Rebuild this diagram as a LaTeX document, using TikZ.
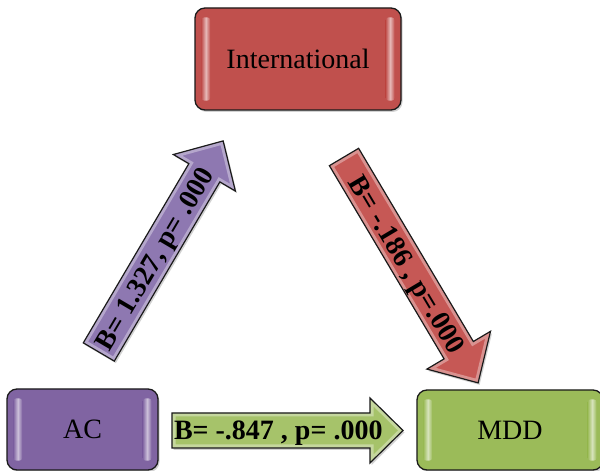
\documentclass[tikz,border=0pt]{standalone}
\usepackage{fontspec}
\setmainfont{Liberation Serif}
\usetikzlibrary{calc,shadows}
\definecolor{redc}{HTML}{C0504D}
\definecolor{purc}{HTML}{8064A2}
\definecolor{grnc}{HTML}{9BBB59}
\definecolor{redarr}{HTML}{C65855}
\definecolor{purarr}{HTML}{8E78B1}
\definecolor{grnarr}{HTML}{A6C36A}
\definecolor{edgec}{HTML}{1A1A1A}
\tikzset{
  boxnode/.style={draw=edgec, line width=1.3pt, rounded corners=10pt, inner sep=0pt,
    font=\fontsize{28}{32}\selectfont,
    drop shadow={shadow xshift=1.5pt, shadow yshift=-2pt, opacity=.35}},
  arrtext/.style={font=\bfseries\fontsize{28}{32}\selectfont, inner sep=0pt,
    text height=19pt, text depth=0pt},
  arrbody/.style={fill=#1, drop shadow={shadow xshift=1.5pt, shadow yshift=-2pt, opacity=.35}},
  arredge/.style={draw=edgec, line width=1.2pt, line join=miter},
}
\newcommand{\boxshine}[2]{%
  \shade[left color=#2, right color=#2, middle color=white!60!#2, rounded corners=3pt]
    ($(#1.north west)+(7pt,-10pt)$) rectangle ($(#1.south west)+(16pt,10pt)$);
  \shade[left color=#2, right color=#2, middle color=white!60!#2, rounded corners=3pt]
    ($(#1.north east)+(-16pt,-10pt)$) rectangle ($(#1.south east)+(-7pt,10pt)$);
}
% #1 tail, #2 angle, #3 length, #4 shaft half, #5 head half, #6 head length, #7 colour, #8 tip name
\newcommand{\blockarr}[8]{%
  \begin{scope}[shift={(#1)}, rotate=#2]
    \def\arrpath{(0,-#4) -- ({#3-#6},-#4) -- ({#3-#6},-#5) -- (#3,0) -- ({#3-#6},#5) -- ({#3-#6},#4) -- (0,#4) -- cycle}
    \path[arrbody=#7] \arrpath;
    \begin{scope}
      \clip \arrpath;
      \draw[white, opacity=.35, line width=7pt] \arrpath;
    \end{scope}
    \draw[arredge] \arrpath;
    \coordinate (#8) at (#3,0);
  \end{scope}}
\begin{document}
\begin{tikzpicture}[x=1pt,y=1pt]
\useasboundingbox (0,0) rectangle (600,471);
\fill[white] (0,0) rectangle (600,471);

% boxes
\node[boxnode, fill=redc, minimum width=206pt, minimum height=102pt] (intl) at (298,412) {International};
\node[boxnode, fill=purc, minimum width=151pt, minimum height=81pt] (ac) at (82.5,41.5) {AC};
\node[boxnode, fill=grnc, minimum width=186pt, minimum height=80pt] (mdd) at (510,41) {MDD};
\boxshine{intl}{redc}
\boxshine{ac}{purc}
\boxshine{mdd}{grnc}

% arrows
\coordinate (ptail) at (98.8,119);
\coordinate (rtail) at (344,314);
\coordinate (gtail) at (172,40.5);
\blockarr{ptail}{59.5}{245}{18}{36}{37}{purarr}{ptip}
\blockarr{rtail}{-59.3}{262.7}{17}{37}{38}{redarr}{rtip}
\blockarr{gtail}{0}{231}{17.5}{32.5}{33}{grnarr}{gtip}

\node[arrtext, rotate=59.5] (ptext) at ($(ptail)!0.443!(ptip)$) {B= 1.327, p= .000};
\node[arrtext, rotate=-59.3] (rtext) at ($(rtail)!0.474!(rtip)$) {B= -.186 , p=.000};
\node[arrtext] (gtext) at ($(gtail)!0.46!(gtip)$) {B= -.847 , p= .000};
\end{tikzpicture}
\end{document}
